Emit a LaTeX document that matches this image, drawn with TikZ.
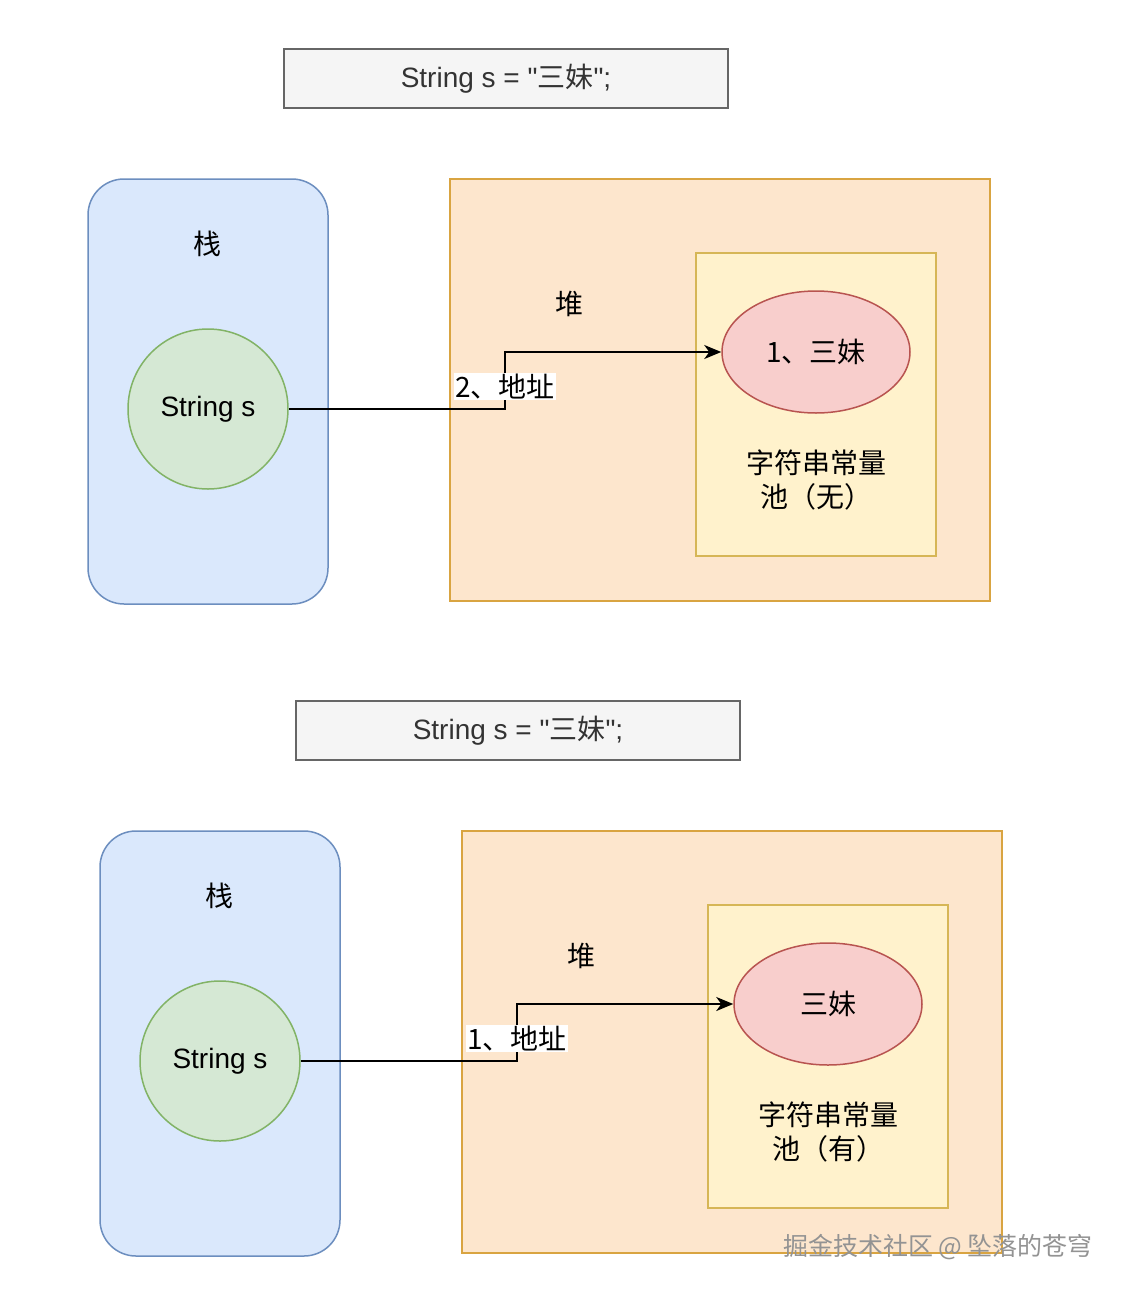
\documentclass[tikz,border=0pt]{standalone}
\usepackage{fontspec}
\setmainfont{Liberation Sans}
\newfontfamily\codefont{Liberation Sans}
\newfontfamily\cjk{Noto Sans CJK SC}
\usetikzlibrary{arrows.meta, shapes.geometric}

\definecolor{codefill}{HTML}{F5F5F5}
\definecolor{codeline}{HTML}{666666}
\definecolor{stackfill}{HTML}{DAE8FC}
\definecolor{stackline}{HTML}{6C8EBF}
\definecolor{varfill}{HTML}{D5E8D4}
\definecolor{varline}{HTML}{82B366}
\definecolor{heapfill}{HTML}{FDE6CD}
\definecolor{heapline}{HTML}{D9A441}
\definecolor{poolfill}{HTML}{FFF2CC}
\definecolor{poolline}{HTML}{D6B656}
\definecolor{strfill}{HTML}{F8CECC}
\definecolor{strline}{HTML}{B85450}

\begin{document}
\begin{tikzpicture}[x=1pt, y=-1pt, every node/.style={font=\fontsize{28}{34}\selectfont, text=black}]
    \useasboundingbox[fill=white] (0,0) rectangle (1126,1294);
    \tikzset{
        codebox/.style={draw=codeline, fill=codefill, line width=1.5pt, minimum width=444, minimum height=59, inner sep=0pt, text=black!80, font=\codefont\fontsize{28}{34}\selectfont},
        stackbox/.style={draw=stackline, fill=stackfill, line width=1.5pt, rounded corners=36pt, minimum width=240, minimum height=425},
        heapbox/.style={draw=heapline, fill=heapfill, line width=1.5pt, minimum width=540, minimum height=422},
        poolbox/.style={draw=poolline, fill=poolfill, line width=1.5pt, minimum width=240, minimum height=303},
        varnode/.style={circle, draw=varline, fill=varfill, line width=1.5pt, minimum size=160, inner sep=0pt},
        strnode/.style={ellipse, draw=strline, fill=strfill, line width=1.5pt, minimum width=188, minimum height=122, inner sep=0pt},
        cjktext/.style={font=\cjk\fontsize{28}{34}\selectfont},
        link/.style={line width=1.8pt, -{Stealth[length=17pt, width=14pt, inset=5pt]}},
        addrlabel/.style={cjktext, fill=white, inner sep=1pt}
    }
    % two cases: first without, then with the string in the pool
    \foreach \i/\dx/\dy/\val/\pool/\addr in {1/0/0/{1、三妹}/无/2, 2/12/652/三妹/有/1}{
        \node[codebox] (code\i) at (506+\dx, 78.5+\dy) {String s = "{\cjk 三妹}";};
        % stack
        \node[stackbox] (stack\i) at (208+\dx, 391.5+\dy) {};
        \node[cjktext] (stacklbl\i) at (207+\dx, 244+\dy) {栈};
        \node[varnode] (var\i) at (208+\dx, 409+\dy) {String s};
        % heap
        \node[heapbox] (heap\i) at (720+\dx, 390+\dy) {};
        \node[cjktext] (heaplbl\i) at (569+\dx, 304+\dy) {堆};
        \node[poolbox] (pool\i) at (816+\dx, 404.5+\dy) {};
        \node[strnode, cjktext] (str\i) at (816+\dx, 352+\dy) {\val};
        \node[cjktext, align=center] (poollbl\i) at (816+\dx, 480+\dy) {字符串常量\\池（\pool）};
        % reference
        \draw[link] (var\i.east) -- (505+\dx, 409+\dy) |- (str\i.west) node[pos=0.2, addrlabel] {\addr、地址};
    }
    % watermark
    \node[font=\cjk\fontsize{25}{30}\selectfont, text=gray!85] (mark) at (938,1247) {掘金技术社区 @ 坠落的苍穹};
\end{tikzpicture}
\end{document}
